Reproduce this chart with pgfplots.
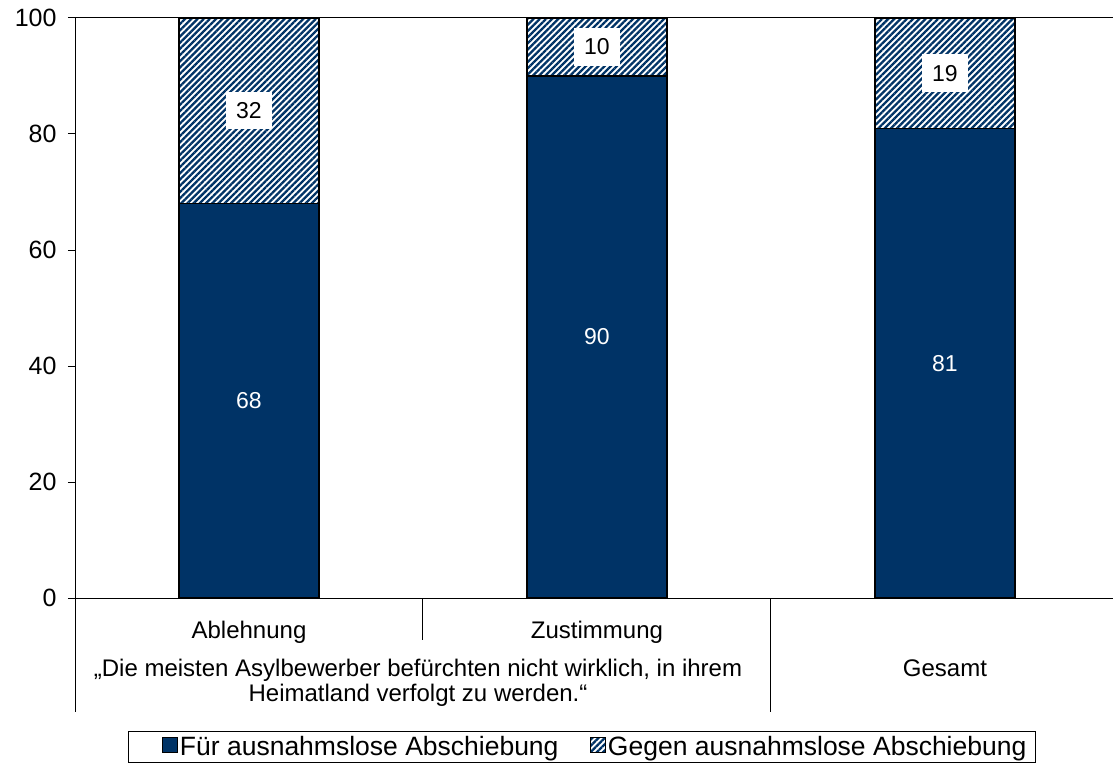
\documentclass[border=0pt]{standalone}
\usepackage{fontspec}
\setmainfont{Liberation Sans}
\usepackage{pgfplots}
\pgfplotsset{compat=1.18}
\usetikzlibrary{patterns.meta}
\definecolor{navy}{RGB}{0,51,102}
\begin{document}
\begin{tikzpicture}
\useasboundingbox (0,0) rectangle (1113pt,764pt);
\begin{axis}[
  at={(75pt,166pt)}, anchor=south west,
  scale only axis, width=1044pt, height=580pt,
  clip=false,
  ybar stacked, bar width=140pt,
  xmin=-0.5, xmax=2.5, ymin=0, ymax=100,
  xtick={0,1}, xticklabels={Ablehnung,Zustimmung},
  extra x ticks={2}, extra x tick labels={Gesamt},
  extra x tick style={grid=none, major tick length=0pt, xticklabel style={yshift=-45pt}},
  x tick style={draw=none},
  xticklabel style={anchor=base, yshift=-33pt, font=\fontsize{24}{28}\selectfont},
  ytick={0,20,...,100}, ytick pos=left,
  y tick style={black, line width=1pt}, tick align=outside, major tick length=7pt,
  yticklabel style={font=\fontsize{25}{30}\selectfont, xshift=-8pt},
  /pgf/number format/assume math mode=true,
  axis line style={black, line width=1pt},
  legend style={at={(0.4856,-0.2293)}, anchor=north, legend columns=2, draw=black, line width=1pt,
    font=\fontsize{26.5}{30}\selectfont, inner xsep=7pt, inner ysep=3pt,
    /tikz/every even column/.append style={column sep=3pt}},
  legend image code/.code={\path[draw=none, fill=none] (0pt,0pt) -- (27pt,0pt); \draw[#1, line width=0.9pt] (27pt,-6pt) rectangle (42pt,9pt);},
  nodes near coords,
  every node near coord/.append style={anchor=center, font=\fontsize{23}{27}\selectfont},
]
\addplot[fill=navy, draw=black, line width=1.3pt,
  every node near coord/.append style={text=white}]
  coordinates {(0,68) (1,90) (2,81)};
\addlegendentry{Für ausnahmslose Abschiebung}
\addplot[pattern={Lines[angle=45,distance=4.4pt,line width=2.3pt]}, pattern color=navy, draw=black, line width=1.3pt,
  every node near coord/.append style={text=black, fill=white, inner sep=10.5pt}]
  coordinates {(0,32) (1,10) (2,19)};
\addlegendentry{Gegen ausnahmslose Abschiebung}
\draw[black, line width=1pt] (axis cs:-0.5,0) -- ++(0pt,-114pt);
\draw[black, line width=1pt] (axis cs:0.5,0) -- ++(0pt,-42pt);
\draw[black, line width=1pt] (axis cs:1.5,0) -- ++(0pt,-114pt);
\node[anchor=base, align=center, font=\fontsize{24}{25}\selectfont, inner sep=0pt] at (axis cs:0.4857,0) [yshift=-103pt]
  {„Die meisten Asylbewerber befürchten nicht wirklich, in ihrem\\Heimatland verfolgt zu werden.“};
\end{axis}
\end{tikzpicture}
\end{document}
